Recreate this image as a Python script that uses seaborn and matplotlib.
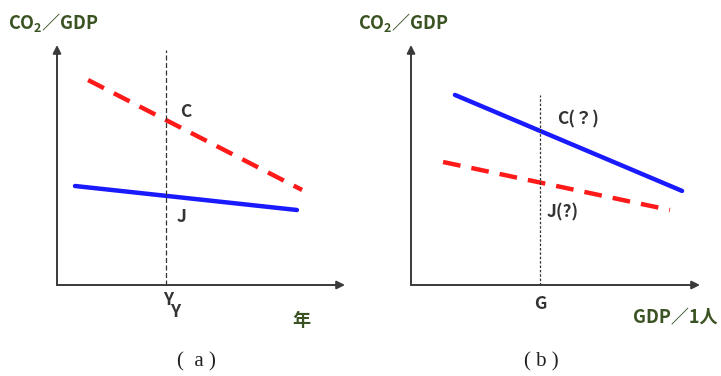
import matplotlib
matplotlib.use("Agg")
import matplotlib.pyplot as plt
import seaborn as sns
import pandas as pd

sns.set_theme(style="white")
plt.rcParams['font.family'] = ['Noto Sans CJK JP', 'DejaVu Sans']

# Panel (a): CO2/GDP vs year (axis units 0-100)
a_x = [10.8, 85.1]
a_c = [85.4, 39.6]          # C (red dashed)
a_jx = [6.25, 83.3]
a_j = [41.25, 31.25]        # J (blue solid)
a_vline_x = 37.8
a_vline_top = 98

# Panel (b): CO2/GDP vs GDP per capita
b_cx = [15.2, 93.8]
b_c = [79.2, 39.2]          # C(?) (blue solid)
b_jx = [11.1, 89.6]
b_j = [51.25, 31.25]        # J(?) (red dashed)
b_vline_x = 44.6
b_vline_top = 79.2

W, H = 721, 376
fig = plt.figure(figsize=(W / 100, H / 100), dpi=100)
GREEN = '#3b5323'
DARK = '#333333'

def make_ax(left_px, width_px):
    ax = fig.add_axes([left_px / W, (H - 285) / H, width_px / W, 240 / H])
    ax.set_xlim(0, 100)
    ax.set_ylim(0, 100)
    for s in ax.spines.values():
        s.set_visible(False)
    ax.set_xticks([])
    ax.set_yticks([])
    ax.patch.set_alpha(0)
    ax.annotate('', xy=(1, 0), xytext=(0, 0), xycoords='axes fraction',
                arrowprops=dict(arrowstyle='-|>', color='#3a3a3a', lw=1.4,
                                mutation_scale=12, shrinkA=0, shrinkB=0),
                annotation_clip=False)
    ax.annotate('', xy=(0, 1), xytext=(0, 0), xycoords='axes fraction',
                arrowprops=dict(arrowstyle='-|>', color='#3a3a3a', lw=1.4,
                                mutation_scale=12, shrinkA=0, shrinkB=0),
                annotation_clip=False)
    return ax

ax1 = make_ax(57, 288)
sns.lineplot(x=a_x, y=a_c, ax=ax1, color='#ff1a1a', lw=3.2, linestyle=(0, (4, 2.5)))
sns.lineplot(x=a_jx, y=a_j, ax=ax1, color='#1a1aff', lw=3.2)
ax1.plot([a_vline_x, a_vline_x], [0, a_vline_top], color='#333333', lw=0.9,
         linestyle=(0, (4, 2)))

ax2 = make_ax(411, 289)
sns.lineplot(x=b_cx, y=b_c, ax=ax2, color='#1a1aff', lw=3.2)
sns.lineplot(x=b_jx, y=b_j, ax=ax2, color='#ff1a1a', lw=3.2, linestyle=(0, (4, 2.5)))
ax2.plot([b_vline_x, b_vline_x], [0, b_vline_top], color='#333333', lw=0.9,
         linestyle=(0, (2, 1.5)))

def ftext(x, y, s, **kw):
    fig.text(x / W, 1 - y / H, s, **kw)

ylab = 'CO$_\\mathregular{2}$／GDP'
ftext(8, 22, ylab, ha='left', va='center', fontsize=13, fontweight='bold', color=GREEN)
ftext(358, 22, ylab, ha='left', va='center', fontsize=13, fontweight='bold', color=GREEN)

ftext(186, 112, 'C', ha='center', va='center', fontsize=12.5, fontweight='bold', color=DARK)
ftext(182, 217, 'J', ha='center', va='center', fontsize=12.5, fontweight='bold', color=DARK)
ftext(163, 306, 'Y\n  Y', ha='left', va='center', ma='left', linespacing=0.62,
      fontsize=12.5, fontweight='bold', color=DARK)
ftext(301, 320, '年', ha='center', va='center', fontsize=13, fontweight='bold', color=GREEN)
ftext(196, 362, '(  a )', ha='center', va='center', fontsize=15, color='#222222',
      family=['Liberation Serif', 'DejaVu Serif'])

ftext(578, 119, 'C(？)', ha='center', va='center', fontsize=12.5, fontweight='bold', color=DARK)
ftext(563, 212, 'J(?)', ha='center', va='center', fontsize=12.5, fontweight='bold', color=DARK)
ftext(540, 304, 'G', ha='center', va='center', fontsize=12.5, fontweight='bold', color=DARK)
ftext(675, 318, 'GDP／1人', ha='center', va='center', fontsize=13, fontweight='bold', color=GREEN)
ftext(541, 362, '( b )', ha='center', va='center', fontsize=15, color='#222222',
      family=['Liberation Serif', 'DejaVu Serif'])

fig.savefig('out.png', dpi=100, facecolor='white')
